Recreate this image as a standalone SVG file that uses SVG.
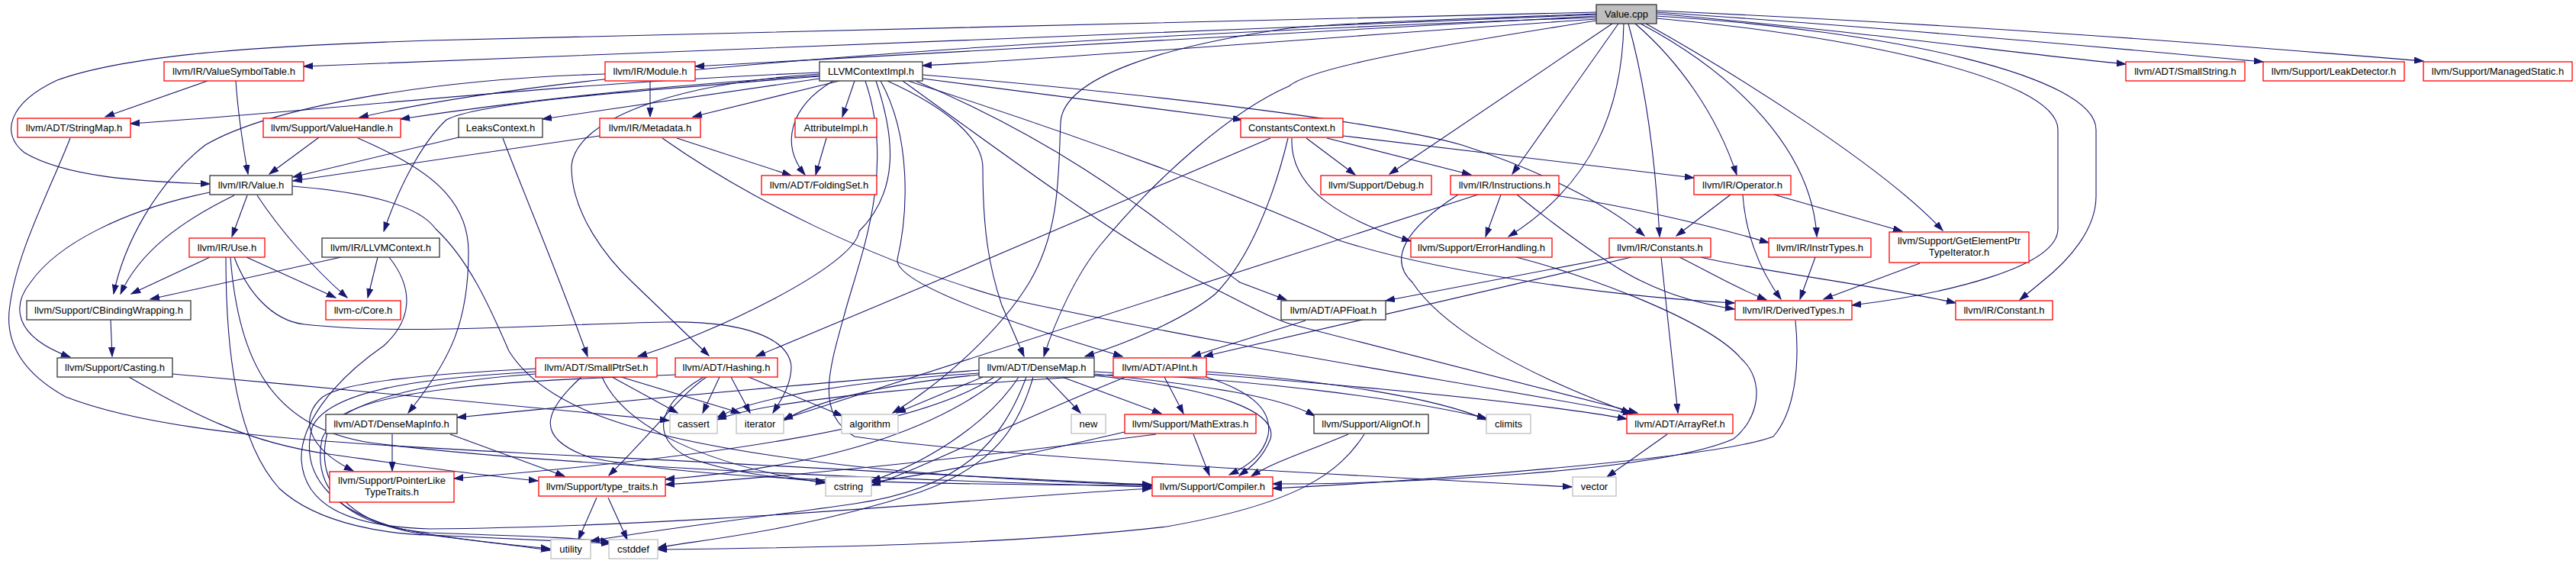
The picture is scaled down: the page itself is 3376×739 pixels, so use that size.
<svg xmlns="http://www.w3.org/2000/svg" width="3376" height="739" viewBox="0 0 3376 739">
<defs>
<marker id="arr" markerUnits="userSpaceOnUse" markerWidth="13" markerHeight="10" refX="12" refY="4.5" orient="auto">
<path d="M0,0.5 L12,4.5 L0,8.5 z" fill="#191970" stroke="#191970" stroke-width="1"/>
</marker>
<style>
.r{fill:#ffffff;stroke:#ff0000;stroke-width:1.3}
.k{fill:#ffffff;stroke:#333333;stroke-width:1.3}
.g{fill:#ffffff;stroke:#bfbfbf;stroke-width:1.3}
.root{fill:#bfbfbf;stroke:#333333;stroke-width:1.3}
text{font-family:"Liberation Sans",Arial,sans-serif;font-size:13px;text-anchor:middle;fill:#000000}
#edges path{fill:none;stroke:#191970;stroke-width:1.1;marker-end:url(#arr)}
</style>
</defs>
<rect x="0" y="0" width="3376" height="739" fill="#ffffff"/>
<g id="edges">
<path d="M2092,16 C1421,32 818,45 563,53 C355,60 172,70 75,105 C11,135 0,175 32,200 C86,232 183,238 275,241"/>
<path d="M2092,19 C1520,42 920,70 398,87"/>
<path d="M2092,23 C1320,50 720,95 471,154"/>
<path d="M2092,21 C1620,45 1220,72 911,87"/>
<path d="M2092,25 C1720,50 1420,75 1209,86"/>
<path d="M2092,27 C1916,55 1722,85 1689,113 C1615,145 1518,230 1443,320 C1410,360 1383,420 1368,467"/>
<path d="M2092,18 C1916,25 1755,30 1689,37 C1529,60 1394,100 1390,160 C1387,220 1391,300 1349,370 C1313,430 1238,500 1170,541"/>
<path d="M2113,31 L1821,228"/>
<path d="M2121,31 L1982,228"/>
<path d="M2128,31 C2126,140 2089,240 1977,310"/>
<path d="M2134,31 C2159,120 2170,220 2175,310"/>
<path d="M2143,31 C2200,80 2250,150 2276,229"/>
<path d="M2150,31 C2280,100 2375,200 2381,310"/>
<path d="M2157,31 C2280,100 2470,220 2546,302"/>
<path d="M2171,24 C2411,45 2697,100 2697,170 L2697,300 C2697,350 2551,385 2427,400"/>
<path d="M2171,21 C2480,40 2747,100 2747,170 L2747,257 C2747,300 2713,340 2675,370 L2647,393"/>
<path d="M2171,18 C2430,40 2640,70 2786,84"/>
<path d="M2171,16 C2530,40 2820,68 2966,81"/>
<path d="M2171,14 C2630,35 2930,60 3176,80"/>
<path d="M1074,95 C711,110 431,145 171,162"/>
<path d="M1074,99 C820,115 630,140 525,156"/>
<path d="M1074,103 L711,156"/>
<path d="M1100,106 L908,153"/>
<path d="M1120,106 L1104,153"/>
<path d="M1092,106 C1034,140 1023,190 1055,229"/>
<path d="M1209,103 L1628,157"/>
<path d="M1209,98 C1529,125 1809,160 1916,190 C2024,225 2110,270 2155,309"/>
<path d="M1190,106 C1421,180 1637,260 1755,315 C1895,360 2132,390 2273,397"/>
<path d="M1074,100 C818,120 624,135 585,157 C560,180 528,230 503,303"/>
<path d="M1148,106 C1173,180 1179,250 1126,303 C1120,350 926,440 836,467"/>
<path d="M1074,97 C872,110 754,160 749,217 C748,280 797,340 829,370 L929,466"/>
<path d="M1163,106 C1238,140 1288,180 1288,220 C1288,300 1296,350 1313,400 L1342,467"/>
<path d="M1154,106 C1195,180 1190,280 1176,340 C1173,370 1313,420 1471,467"/>
<path d="M1183,106 C1313,200 1475,320 1575,370 C1637,400 1670,420 1700,427 L2146,541"/>
<path d="M1200,106 C1421,200 1529,300 1625,370 L1686,393"/>
<path d="M1134,106 C1173,220 1130,330 1110,400 C1088,480 1066,540 1120,572 C1313,600 1809,625 2060,638"/>
<path d="M272,106 L138,153"/>
<path d="M309,106 C312,150 320,200 325,228"/>
<path d="M852,106 L852,153"/>
<path d="M793,97 C563,104 355,140 269,190 C205,240 162,320 149,385"/>
<path d="M418,180 L353,228"/>
<path d="M469,181 C560,220 614,260 614,330 C614,420 592,470 535,541"/>
<path d="M601,180 L384,232"/>
<path d="M659,181 C689,260 732,360 770,467"/>
<path d="M786,178 L384,237"/>
<path d="M887,181 L1037,230"/>
<path d="M868,181 C980,260 1141,340 1313,390 C1637,460 1916,500 2139,542"/>
<path d="M1083,181 L1069,229"/>
<path d="M1712,181 L1776,229"/>
<path d="M1739,181 L1928,229"/>
<path d="M1760,178 L2220,233"/>
<path d="M1693,181 C1690,250 1765,290 1849,316"/>
<path d="M1665,181 L1223,370 C1152,400 1055,440 991,467"/>
<path d="M1688,181 C1669,260 1637,340 1593,385 C1550,420 1475,450 1422,467"/>
<path d="M324,256 L304,310"/>
<path d="M307,256 C237,290 183,330 158,385"/>
<path d="M275,252 C162,275 75,320 40,370 C16,400 16,440 92,468"/>
<path d="M337,256 C366,300 409,350 455,390"/>
<path d="M383,244 C485,252 550,270 571,300 C614,340 641,400 667,460 C711,530 818,570 1034,600 C1205,625 1421,633 1509,636"/>
<path d="M275,337 L172,385"/>
<path d="M323,337 L440,390"/>
<path d="M296,337 C296,470 312,580 366,640 C420,690 517,700 563,701 L800,712"/>
<path d="M307,337 C323,380 355,420 399,425 C539,440 711,425 872,422 C980,420 1034,445 1037,480 C1037,505 1023,525 1013,541"/>
<path d="M302,337 C312,470 355,560 485,580 C711,610 1205,630 1509,638"/>
<path d="M447,337 L197,392"/>
<path d="M495,337 L482,390"/>
<path d="M510,337 C544,380 539,420 503,453 C431,503 393,560 395,603 C399,660 452,690 563,693 C926,690 1313,650 1509,640"/>
<path d="M92,181 C65,250 22,330 13,400 C5,450 32,490 86,520 C215,570 431,580 711,595 C1034,610 1313,628 1509,635"/>
<path d="M145,419 L147,467"/>
<path d="M226,490 C431,508 603,525 877,551"/>
<path d="M169,494 C248,540 323,580 431,595 C539,610 620,622 705,630"/>
<path d="M702,483 C563,490 452,500 423,520 C393,545 399,585 463,617"/>
<path d="M702,487 C560,495 431,510 409,560 C393,620 431,680 563,700 C615,708 690,716 721,719"/>
<path d="M702,490 C560,500 442,525 422,575 C409,640 452,690 563,698 C667,702 755,704 799,710"/>
<path d="M802,494 L888,541"/>
<path d="M814,494 L970,541"/>
<path d="M789,494 C818,560 926,610 1081,633"/>
<path d="M762,494 C711,540 700,575 775,600 C926,630 1205,635 1509,636"/>
<path d="M943,494 L921,541"/>
<path d="M958,494 L983,541"/>
<path d="M981,494 L1104,545"/>
<path d="M926,494 C894,515 861,560 798,623"/>
<path d="M922,494 C861,530 851,575 904,600 C958,620 1034,628 1081,631"/>
<path d="M885,491 C711,498 463,505 431,560 C409,630 452,685 555,700 C614,708 689,716 721,721"/>
<path d="M1371,494 L1416,541"/>
<path d="M1392,494 L1522,542"/>
<path d="M1434,492 C1600,510 1675,540 1665,575 C1655,600 1640,612 1624,623"/>
<path d="M1434,490 C1582,505 1680,520 1723,545"/>
<path d="M1434,487 C1640,498 1830,520 1948,548"/>
<path d="M1288,494 L1175,541"/>
<path d="M1283,489 C1100,500 980,525 940,547"/>
<path d="M1283,491 C1140,505 1060,530 1027,551"/>
<path d="M1283,485 C1030,505 820,525 599,547"/>
<path d="M1303,494 C1205,560 926,600 595,627"/>
<path d="M1313,494 C1205,580 1034,615 872,628"/>
<path d="M1335,494 C1292,560 1205,610 1142,630"/>
<path d="M1354,494 C1335,560 1303,610 1205,645 C1034,700 906,708 862,718"/>
<path d="M1345,494 C1313,580 1260,640 1120,660 C980,680 850,695 774,709"/>
<path d="M1526,494 L1551,542"/>
<path d="M1581,490 C1830,510 2030,530 2132,549"/>
<path d="M1581,487 C1730,498 1880,520 1948,550"/>
<path d="M1459,491 C1220,505 1000,525 940,550"/>
<path d="M1475,494 C1313,560 1205,615 1142,636"/>
<path d="M1581,494 C1646,515 1667,540 1662,570 C1656,595 1637,610 1611,622"/>
<path d="M1564,569 L1585,623"/>
<path d="M1474,566 C1370,590 1260,615 1142,632"/>
<path d="M1515,569 C1313,595 1034,625 872,635"/>
<path d="M1767,569 C1705,595 1670,605 1640,624"/>
<path d="M1788,569 C1755,620 1701,660 1529,690 C1313,715 1034,718 862,720"/>
<path d="M2185,569 L2106,625"/>
<path d="M514,569 L514,617"/>
<path d="M590,569 L740,624"/>
<path d="M782,652 L758,707"/>
<path d="M797,652 L822,707"/>
<path d="M1967,255 L1947,310"/>
<path d="M2032,255 C2132,270 2240,295 2318,318"/>
<path d="M1988,255 C2056,310 2121,355 2155,370 C2196,390 2240,400 2273,405"/>
<path d="M1911,255 C1841,300 1819,340 1851,370 C1884,420 1970,480 2137,541"/>
<path d="M1937,255 L1027,549"/>
<path d="M2268,255 L2197,309"/>
<path d="M2325,255 L2493,303"/>
<path d="M2284,255 C2287,300 2303,350 2334,392"/>
<path d="M1987,337 C2078,360 2240,420 2282,470 C2315,500 2304,550 2272,575 C2171,620 1809,635 1668,634"/>
<path d="M2115,337 L1816,394"/>
<path d="M2138,337 L1578,467"/>
<path d="M2177,337 L2199,541"/>
<path d="M2229,337 C2304,355 2465,375 2563,397"/>
<path d="M2201,337 C2238,355 2270,375 2315,393"/>
<path d="M2379,337 L2359,392"/>
<path d="M2516,345 L2390,392"/>
<path d="M2353,420 C2359,480 2352,540 2324,572 C2252,600 1866,630 1668,640"/>
<path d="M1711,420 L1562,467"/>
</g>
<g id="n_value_cpp"><rect class="root" x="2092" y="6" width="79" height="25"/><text x="2131.5" y="23">Value.cpp</text></g>
<g id="n_vst"><rect class="r" x="215" y="81" width="183" height="25"/><text x="306.5" y="98">llvm/IR/ValueSymbolTable.h</text></g>
<g id="n_module"><rect class="r" x="793" y="81" width="118" height="25"/><text x="852" y="98">llvm/IR/Module.h</text></g>
<g id="n_ctximpl"><rect class="k" x="1074" y="81" width="135" height="25"/><text x="1141.5" y="98">LLVMContextImpl.h</text></g>
<g id="n_smallstring"><rect class="r" x="2786" y="81" width="156" height="25"/><text x="2864" y="98">llvm/ADT/SmallString.h</text></g>
<g id="n_leakdet"><rect class="r" x="2966" y="81" width="185" height="25"/><text x="3058.5" y="98">llvm/Support/LeakDetector.h</text></g>
<g id="n_managed"><rect class="r" x="3176" y="81" width="195" height="25"/><text x="3273.5" y="98">llvm/Support/ManagedStatic.h</text></g>
<g id="n_stringmap"><rect class="r" x="23" y="155" width="148" height="25"/><text x="97" y="172">llvm/ADT/StringMap.h</text></g>
<g id="n_valuehandle"><rect class="r" x="345" y="155" width="180" height="25"/><text x="435" y="172">llvm/Support/ValueHandle.h</text></g>
<g id="n_leaksctx"><rect class="k" x="601" y="155" width="110" height="25"/><text x="656" y="172">LeaksContext.h</text></g>
<g id="n_metadata"><rect class="r" x="786" y="155" width="132" height="25"/><text x="852" y="172">llvm/IR/Metadata.h</text></g>
<g id="n_attrimpl"><rect class="r" x="1042" y="155" width="107" height="25"/><text x="1095.5" y="172">AttributeImpl.h</text></g>
<g id="n_constctx"><rect class="r" x="1626" y="155" width="134" height="25"/><text x="1693" y="172">ConstantsContext.h</text></g>
<g id="n_value_h"><rect class="k" x="275" y="230" width="108" height="25"/><text x="329" y="247">llvm/IR/Value.h</text></g>
<g id="n_foldingset"><rect class="r" x="998" y="230" width="151" height="25"/><text x="1073.5" y="247">llvm/ADT/FoldingSet.h</text></g>
<g id="n_debug"><rect class="r" x="1731" y="230" width="145" height="25"/><text x="1803.5" y="247">llvm/Support/Debug.h</text></g>
<g id="n_instructions"><rect class="r" x="1901" y="230" width="142" height="25"/><text x="1972" y="247">llvm/IR/Instructions.h</text></g>
<g id="n_operator"><rect class="r" x="2220" y="230" width="127" height="25"/><text x="2283.5" y="247">llvm/IR/Operator.h</text></g>
<g id="n_use"><rect class="r" x="248" y="312" width="99" height="25"/><text x="297.5" y="329">llvm/IR/Use.h</text></g>
<g id="n_llvmctx"><rect class="k" x="422" y="312" width="154" height="25"/><text x="499" y="329">llvm/IR/LLVMContext.h</text></g>
<g id="n_errhand"><rect class="r" x="1849" y="312" width="185" height="25"/><text x="1941.5" y="329">llvm/Support/ErrorHandling.h</text></g>
<g id="n_constants"><rect class="r" x="2109" y="312" width="133" height="25"/><text x="2175.5" y="329">llvm/IR/Constants.h</text></g>
<g id="n_instrtypes"><rect class="r" x="2318" y="312" width="134" height="25"/><text x="2385" y="329">llvm/IR/InstrTypes.h</text></g>
<g id="n_gepti"><rect class="r" x="2476" y="304" width="183" height="40"/><text x="2567.5" y="320">llvm/Support/GetElementPtr</text><text x="2567.5" y="335">TypeIterator.h</text></g>
<g id="n_cbinding"><rect class="k" x="35" y="394" width="215" height="25"/><text x="142.5" y="411">llvm/Support/CBindingWrapping.h</text></g>
<g id="n_core"><rect class="r" x="427" y="394" width="98" height="25"/><text x="476" y="411">llvm-c/Core.h</text></g>
<g id="n_apfloat"><rect class="k" x="1679" y="394" width="137" height="25"/><text x="1747.5" y="411">llvm/ADT/APFloat.h</text></g>
<g id="n_derived"><rect class="r" x="2274" y="394" width="153" height="25"/><text x="2350.5" y="411">llvm/IR/DerivedTypes.h</text></g>
<g id="n_constant"><rect class="r" x="2563" y="394" width="127" height="25"/><text x="2626.5" y="411">llvm/IR/Constant.h</text></g>
<g id="n_casting"><rect class="k" x="75" y="469" width="151" height="25"/><text x="150.5" y="486">llvm/Support/Casting.h</text></g>
<g id="n_smallptrset"><rect class="r" x="702" y="469" width="159" height="25"/><text x="781.5" y="486">llvm/ADT/SmallPtrSet.h</text></g>
<g id="n_hashing"><rect class="r" x="885" y="469" width="134" height="25"/><text x="952" y="486">llvm/ADT/Hashing.h</text></g>
<g id="n_densemap"><rect class="k" x="1283" y="469" width="151" height="25"/><text x="1358.5" y="486">llvm/ADT/DenseMap.h</text></g>
<g id="n_apint"><rect class="r" x="1459" y="469" width="122" height="25"/><text x="1520" y="486">llvm/ADT/APInt.h</text></g>
<g id="n_densemapinfo"><rect class="k" x="427" y="543" width="172" height="25"/><text x="513" y="560">llvm/ADT/DenseMapInfo.h</text></g>
<g id="n_cassert"><rect class="g" x="878" y="543" width="62" height="25"/><text x="909" y="560">cassert</text></g>
<g id="n_iterator"><rect class="g" x="965" y="543" width="62" height="25"/><text x="996" y="560">iterator</text></g>
<g id="n_algorithm"><rect class="g" x="1103" y="543" width="74" height="25"/><text x="1140" y="560">algorithm</text></g>
<g id="n_new"><rect class="g" x="1404" y="543" width="45" height="25"/><text x="1426.5" y="560">new</text></g>
<g id="n_mathextras"><rect class="r" x="1474" y="543" width="172" height="25"/><text x="1560" y="560">llvm/Support/MathExtras.h</text></g>
<g id="n_alignof"><rect class="k" x="1722" y="543" width="150" height="25"/><text x="1797" y="560">llvm/Support/AlignOf.h</text></g>
<g id="n_climits"><rect class="g" x="1948" y="543" width="58" height="25"/><text x="1977" y="560">climits</text></g>
<g id="n_arrayref"><rect class="r" x="2132" y="543" width="139" height="25"/><text x="2201.5" y="560">llvm/ADT/ArrayRef.h</text></g>
<g id="n_pltt"><rect class="r" x="432" y="618" width="163" height="40"/><text x="513.5" y="634">llvm/Support/PointerLike</text><text x="513.5" y="649">TypeTraits.h</text></g>
<g id="n_typetraits"><rect class="r" x="706" y="625" width="166" height="25"/><text x="789" y="642">llvm/Support/type_traits.h</text></g>
<g id="n_cstring"><rect class="g" x="1082" y="625" width="60" height="25"/><text x="1112" y="642">cstring</text></g>
<g id="n_compiler"><rect class="r" x="1510" y="625" width="158" height="25"/><text x="1589" y="642">llvm/Support/Compiler.h</text></g>
<g id="n_vector"><rect class="g" x="2061" y="625" width="57" height="25"/><text x="2089.5" y="642">vector</text></g>
<g id="n_utility"><rect class="g" x="722" y="707" width="52" height="25"/><text x="748" y="724">utility</text></g>
<g id="n_cstddef"><rect class="g" x="798" y="707" width="64" height="25"/><text x="830" y="724">cstddef</text></g>
</svg>
